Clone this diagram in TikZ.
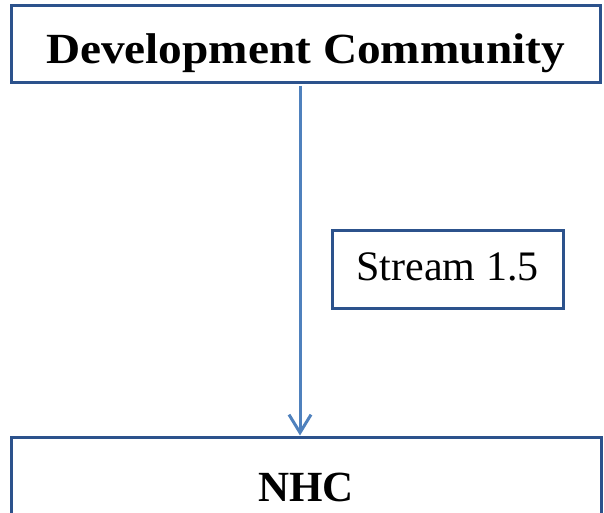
\documentclass[tikz,border=0pt]{standalone}
\usepackage{fontspec}
\setmainfont{Liberation Serif}
\newfontfamily\widefont[FakeStretch=1.1]{Liberation Serif}
\usetikzlibrary{arrows.meta}
\definecolor{boxblue}{RGB}{44,82,140}
\definecolor{arrowblue}{RGB}{79,129,189}
\begin{document}
\begin{tikzpicture}[x=1pt,y=-1pt,
  box/.style={draw=boxblue,line width=3pt,fill=white,inner sep=0pt,text depth=0pt},
  flow/.style={draw=arrowblue,line width=3pt,-{Straight Barb[length=18pt,width=22pt]}}]
\useasboundingbox (0,0) rectangle (604,513);
\node[box,minimum width=589pt,minimum height=77pt,text height=38pt,
  font=\widefont\bfseries\fontsize{43}{43}\selectfont] (dev) at (305.5,44.5) {Development Community};
\node[box,minimum width=590pt,minimum height=100pt,text height=28pt,
  font=\bfseries\fontsize{43}{43}\selectfont] (nhc) at (306,487) {NHC};
\node[box,minimum width=231pt,minimum height=78pt,text height=22pt,
  font=\fontsize{42}{42}\selectfont] (stream) at (447.5,269) {Stream 1.5};
\draw[flow,shorten <=1.5pt] ([xshift=-5.5pt]dev.south) -- ([xshift=-6pt]nhc.north);
\end{tikzpicture}
\end{document}
